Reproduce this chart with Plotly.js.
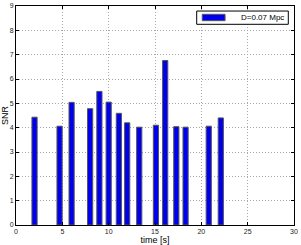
<!DOCTYPE html>
<html>
<head>
<meta charset="utf-8">
<script src="https://cdn.plot.ly/plotly-3.0.1.min.js"></script>
<style>html,body{margin:0;padding:0;background:#fff;}#chart{width:301px;height:245px;}</style>
</head>
<body>
<div id="chart"></div>
<script>
const seriesName = "D=0.07 Mpc";
const times = [2, 4.7, 6, 8, 9, 10, 11.1, 12, 13.3, 15.1, 16.1, 17.3, 18.3, 20.8, 22.1];
const snr = [4.43, 4.06, 5.04, 4.78, 5.49, 5.05, 4.59, 4.2, 4.02, 4.1, 6.76, 4.04, 4.02, 4.06, 4.4];
const xTicks = [0, 5, 10, 15, 20, 25, 30];
const yTicks = [0, 1, 2, 3, 4, 5, 6, 7, 8, 9];

const font = "Liberation Sans, Arial, Helvetica, sans-serif";
const blue = "#0000ee";
const edge = "#555555";

const trace = {
  type: "bar",
  x: times,
  y: snr,
  width: times.map(() => 0.56),
  name: seriesName,
  marker: {color: blue, line: {color: edge, width: 1}},
  showlegend: false,
  hoverinfo: "none"
};

const axisCommon = {
  showline: true, linecolor: "#000", linewidth: 1, mirror: "ticks",
  ticks: "inside", ticklen: 3, tickcolor: "#000", tickwidth: 1,
  showgrid: true, gridcolor: "#a8a8a8", griddash: "1px,2px", gridwidth: 1,
  zeroline: false, fixedrange: true,
  tickfont: {family: font, size: 7, color: "#222"}
};

const layout = {
  width: 301, height: 245,
  margin: {l: 16, r: 7, t: 6, b: 20},
  paper_bgcolor: "#fff", plot_bgcolor: "#fff",
  font: {family: font, color: "#000"},
  xaxis: Object.assign({}, axisCommon, {
    range: [0, 30], tickvals: xTicks, ticktext: xTicks.map(String),
    title: {text: "time [s]", font: {family: font, size: 9, color: "#000"}, standoff: 1}
  }),
  yaxis: Object.assign({}, axisCommon, {
    range: [0, 9], tickvals: yTicks, ticktext: yTicks.map(String),
    title: {text: "SNR", font: {family: font, size: 9, color: "#000"}, standoff: 2}
  }),
  shapes: [
    {type: "rect", xref: "paper", yref: "paper", x0: 0.650, x1: 0.9795, y0: 0.9164, y1: 0.977,
     line: {color: "#000", width: 1}, fillcolor: "#fff"},
    {type: "rect", xref: "paper", yref: "paper", x0: 0.670, x1: 0.752, y0: 0.933, y1: 0.962,
     line: {color: edge, width: 1}, fillcolor: blue}
  ],
  annotations: [
    {xref: "paper", yref: "paper", x: 0.973, y: 0.9475, xanchor: "right", yanchor: "middle",
     text: seriesName, showarrow: false, font: {family: font, size: 8, color: "#000"}}
  ]
};

Plotly.newPlot("chart", [trace], layout, {displayModeBar: false, staticPlot: true});
</script>
</body>
</html>
